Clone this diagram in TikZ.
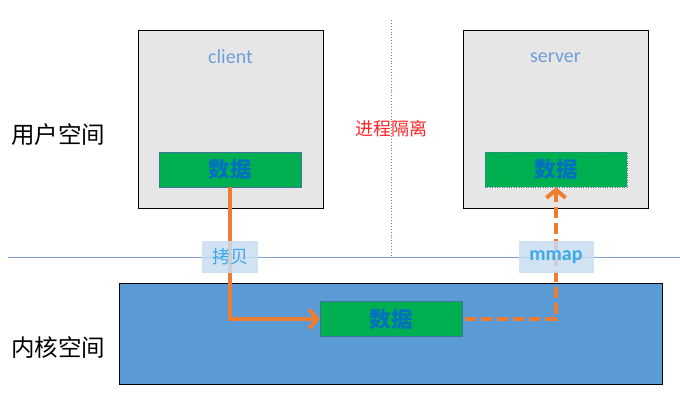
\documentclass[tikz,border=0pt]{standalone}
\usepackage{fontspec}
\setmainfont{Carlito}
\newfontfamily\cjk{Noto Sans CJK SC}
\usetikzlibrary{positioning}
\usetikzlibrary{calc}
\usetikzlibrary{arrows.meta}
\definecolor{boxgray}{HTML}{E7E6E6}
\definecolor{kernelblue}{HTML}{5B9BD5}
\definecolor{datagreen}{HTML}{00B050}
\definecolor{datatext}{HTML}{0070C0}
\definecolor{dataedge}{HTML}{41719C}
\definecolor{linkorange}{HTML}{ED7D31}
\definecolor{labelfill}{HTML}{C9DDF1}
\definecolor{labeltext}{HTML}{3FA9E8}
\definecolor{dividerblue}{HTML}{7F9FD3}
\definecolor{nametext}{HTML}{6F9FD8}
\tikzset{
    % An open barb looks closest to the original tips
    >={Straight Barb[length=8pt, width=19pt]},
%
    % The two processes living in user space
    process box/.style={
        draw, line width=1.4pt, fill=boxgray, anchor=north west,
        minimum width=185pt, minimum height=178pt},
%
    % Green block holding the data
    data box/.style={
        draw=dataedge, fill=datagreen, text=datatext, inner sep=0,
        minimum width=142pt, minimum height=35pt,
        font=\cjk\bfseries\fontsize{21.5}{21.5}\selectfont},
%
    % Names written at the top of each process
    process name/.style={text=nametext, font=\fontsize{20}{20}\selectfont},
%
    % Left hand titles of the two spaces
    space name/.style={font=\cjk\fontsize{23.5}{23.5}\selectfont},
%
    % Pale tags sitting over the divider
    tag/.style={fill=labelfill, fill opacity=0.85, text opacity=1,
        text=labeltext, minimum height=32pt, inner sep=0},
%
    % Orange data movement
    move/.style={linkorange, line width=4pt, line join=miter}}

\begin{document}
\begin{tikzpicture}[x=1pt, y=-1pt]
\useasboundingbox (0,0) rectangle (680,401);

\coordinate (divide w) at (8,257);
\coordinate (divide e) at (680,257);
\draw [dividerblue, line width=1pt] (divide w) -- (divide e);
\draw [dividerblue!80!black, dotted, line width=0.9pt] (391,20) -- (391,256);

\node [space name] (user space) at (58,135) {用户空间};
\node [space name] (kernel space) at (58,348) {内核空间};
\node [text=red!85!white, font=\cjk\fontsize{18}{18}\selectfont]
    (isolation) at (391,129) {进程隔离};

\node [process box] (client) at (138,30) {};
\node [process box] (server) at (463,30) {};
\node [process name] at (230.5,57) {client};
\node [process name] at (555.5,58) {server};

\node [data box] (client data) at (230,169.5) {数据};
\node [data box, dotted] (server data) at (556,169.5) {数据};

\node [draw, line width=1.4pt, fill=kernelblue, anchor=north west,
    minimum width=543pt, minimum height=101pt]
    (kernel) at (119,283) {};
\node [data box] (kernel data) at (391,319) {数据};

\draw [move, ->] (client data.south) |- (kernel data.west);
\draw [move, ->, dash pattern=on 11pt off 5pt, shorten <=3pt]
    (kernel data.east) -| (server data.south);

\node [tag, minimum width=56pt, font=\cjk\fontsize{18}{18}\selectfont]
    (copy tag) at (client data.south |- divide w) {拷贝};
\node [tag, minimum width=75pt, font=\bfseries\fontsize{20}{20}\selectfont]
    (mmap tag) at (server data.south |- divide w) {mmap};

\end{tikzpicture}
\end{document}
